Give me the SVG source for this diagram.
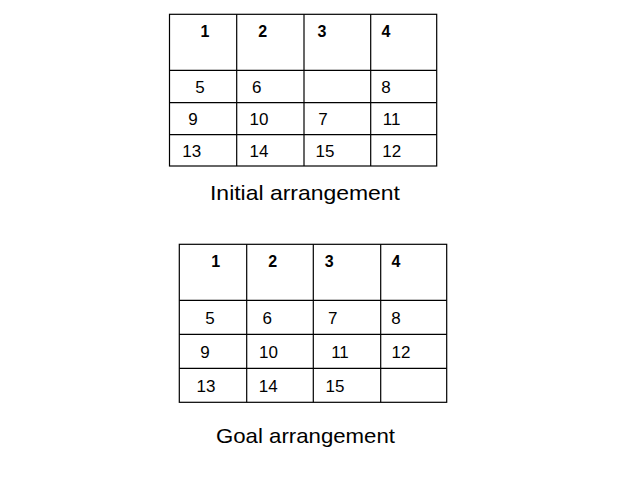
<svg xmlns="http://www.w3.org/2000/svg" width="638" height="479" viewBox="0 0 638 479">
<style>
.grid{fill:none;stroke:#000;stroke-width:1.2}
.n{font-family:"Liberation Sans",Arial,sans-serif;font-size:17px;fill:#000;text-anchor:middle}
.b{font-family:"Liberation Sans",Arial,sans-serif;font-size:16px;font-weight:bold;fill:#000;text-anchor:middle}
.cap{font-family:"Liberation Sans",Arial,sans-serif;font-size:21px;fill:#000}
</style>
<rect width="638" height="479" fill="#fff"/>
<g id="initial">
<g class="grid">
<rect x="169.5" y="14.3" width="267.2" height="151.7"/>
<line x1="236.7" y1="14.3" x2="236.7" y2="166"/>
<line x1="304" y1="14.3" x2="304" y2="166"/>
<line x1="370.7" y1="14.3" x2="370.7" y2="166"/>
<line x1="169.5" y1="70.3" x2="436.7" y2="70.3"/>
<line x1="169.5" y1="102.7" x2="436.7" y2="102.7"/>
<line x1="169.5" y1="134.7" x2="436.7" y2="134.7"/>
</g>
<text class="b" x="205" y="37">1</text>
<text class="b" x="262.7" y="37">2</text>
<text class="b" x="322" y="37">3</text>
<text class="b" x="386" y="37">4</text>
<text class="n" x="200" y="93">5</text>
<text class="n" x="256.7" y="93">6</text>
<text class="n" x="386" y="93">8</text>
<text class="n" x="193" y="125">9</text>
<text class="n" x="259" y="125">10</text>
<text class="n" x="323" y="125">7</text>
<text class="n" x="391.7" y="125">11</text>
<text class="n" x="191.7" y="157">13</text>
<text class="n" x="259" y="157">14</text>
<text class="n" x="325" y="157">15</text>
<text class="n" x="391.7" y="157">12</text>
<text class="cap" x="210" y="200" textLength="190" lengthAdjust="spacingAndGlyphs">Initial arrangement</text>
</g>
<g id="goal">
<g class="grid">
<rect x="179.3" y="244.3" width="267.4" height="158"/>
<line x1="246.7" y1="244.3" x2="246.7" y2="402.3"/>
<line x1="313.3" y1="244.3" x2="313.3" y2="402.3"/>
<line x1="380.7" y1="244.3" x2="380.7" y2="402.3"/>
<line x1="179.3" y1="300.3" x2="446.7" y2="300.3"/>
<line x1="179.3" y1="334.3" x2="446.7" y2="334.3"/>
<line x1="179.3" y1="368.3" x2="446.7" y2="368.3"/>
</g>
<text class="b" x="215.7" y="267.3">1</text>
<text class="b" x="272.7" y="267.3">2</text>
<text class="b" x="329.3" y="267.3">3</text>
<text class="b" x="396" y="267.3">4</text>
<text class="n" x="210" y="324">5</text>
<text class="n" x="267.3" y="324">6</text>
<text class="n" x="332.7" y="324">7</text>
<text class="n" x="396" y="324">8</text>
<text class="n" x="205" y="357.7">9</text>
<text class="n" x="268.5" y="357.7">10</text>
<text class="n" x="340" y="357.7">11</text>
<text class="n" x="401" y="357.7">12</text>
<text class="n" x="206" y="391.7">13</text>
<text class="n" x="268.3" y="391.7">14</text>
<text class="n" x="335" y="391.7">15</text>
<text class="cap" x="216" y="443.3" textLength="179" lengthAdjust="spacingAndGlyphs">Goal arrangement</text>
</g>
</svg>
